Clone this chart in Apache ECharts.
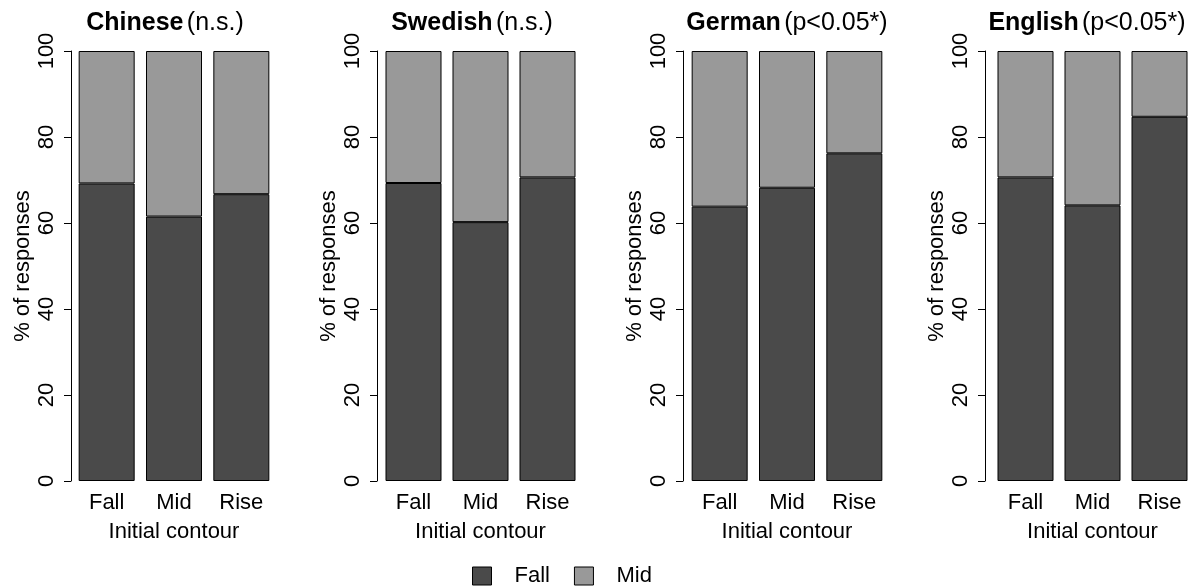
<!DOCTYPE html>
<html>
<head>
<meta charset="utf-8">
<script src="https://cdn.jsdelivr.net/npm/echarts@6/dist/echarts.min.js"></script>
<style>
  html, body { margin: 0; padding: 0; background: #fff; }
  #chart { width: 1198px; height: 587px; }
</style>
</head>
<body>
<div id="chart"></div>
<script>
// data
const languages = ['Chinese', 'Swedish', 'German', 'English'];
const significance = ['(n.s.)', '(n.s.)', '(p<0.05*)', '(p<0.05*)'];
const contours = ['Fall', 'Mid', 'Rise'];
const fallPct = [
    [69.2, 61.5, 66.7],
    [69.3, 60.2, 70.6],
    [63.8, 68.2, 76.2],
    [70.6, 64.1, 84.7]
];
const midPct = [
    [30.8, 38.5, 33.3],
    [30.7, 39.8, 29.4],
    [36.2, 31.8, 23.8],
    [29.4, 35.9, 15.3]
];
const yTicks = [0, 20, 40, 60, 80, 100];

// panel layout (px)
const panels = [
    { left: 73, width: 202, axisOffset: 2, titleX: 165 },
    { left: 380, width: 201, axisOffset: 3, titleX: 472 },
    { left: 686, width: 202, axisOffset: 3, titleX: 787 },
    { left: 992, width: 201, axisOffset: 7, titleX: 1087 }
];

const FONT = 'Liberation Sans, Arial, sans-serif';
const FALL_COLOR = '#4a4a4a';
const MID_COLOR = '#999999';

function initChart() {
    const chart = echarts.init(document.getElementById('chart'));

    const grid = [], xAxis = [], yAxis = [], series = [], graphic = [];

    panels.forEach(function(p, i) {
        grid.push({ left: p.left, width: p.width, top: 51, height: 430 });

        xAxis.push({
            type: 'category',
            gridIndex: i,
            data: contours,
            axisLine: { show: false },
            axisTick: { show: false },
            axisLabel: { color: '#000', fontSize: 22, fontFamily: FONT, margin: 11 },
            name: 'Initial contour',
            nameLocation: 'middle',
            nameGap: 40,
            nameTextStyle: { color: '#000', fontSize: 22, fontFamily: FONT }
        });

        yAxis.push({
            type: 'value',
            gridIndex: i,
            min: 0,
            max: 100,
            interval: 20,
            offset: p.axisOffset,
            splitLine: { show: false },
            axisLine: { show: true, lineStyle: { color: '#000', width: 1 } },
            axisTick: { show: true, length: 7, lineStyle: { color: '#000' } },
            axisLabel: {
                color: '#000', fontSize: 22, fontFamily: FONT, rotate: 90, margin: 13,
                customValues: yTicks
            },
            name: '% of responses',
            nameLocation: 'middle',
            nameGap: 37,
            nameMoveOverlap: false,
            nameTextStyle: { color: '#000', fontSize: 22, fontFamily: FONT }
        });

        series.push({
            name: 'Fall',
            type: 'bar',
            stack: 'p' + i,
            xAxisIndex: i,
            yAxisIndex: i,
            barWidth: 56,
            data: fallPct[i],
            itemStyle: { color: FALL_COLOR, borderColor: '#000', borderWidth: 1 },
            emphasis: { disabled: true }
        });
        series.push({
            name: 'Mid',
            type: 'bar',
            stack: 'p' + i,
            xAxisIndex: i,
            yAxisIndex: i,
            barWidth: 56,
            data: midPct[i],
            itemStyle: { color: MID_COLOR, borderColor: '#000', borderWidth: 1 },
            emphasis: { disabled: true }
        });

        // panel title: bold language + plain significance note
        graphic.push({
            type: 'text',
            x: p.titleX,
            y: 23,
            style: {
                text: '{b|' + languages[i] + '} {n|' + significance[i] + '}',
                align: 'center',
                verticalAlign: 'middle',
                rich: {
                    b: { fontSize: 25, fontWeight: 'bold', fontFamily: FONT, fill: '#000' },
                    n: { fontSize: 25, fontFamily: FONT, fill: '#000' }
                }
            }
        });
    });

    const option = {
        animation: false,
        backgroundColor: '#fff',
        grid: grid,
        xAxis: xAxis,
        yAxis: yAxis,
        series: series,
        graphic: graphic,
        legend: {
            data: ['Fall', 'Mid'],
            left: 472,
            top: 565,
            padding: 0,
            icon: 'rect',
            itemWidth: 19,
            itemHeight: 18,
            itemGap: 24,
            selectedMode: false,
            itemStyle: { borderColor: '#000', borderWidth: 1 },
            textStyle: { color: '#000', fontSize: 22, fontFamily: FONT, padding: [0, 0, 0, 18] }
        }
    };

    chart.setOption(option);
}

document.addEventListener('DOMContentLoaded', initChart);
</script>
</body>
</html>
